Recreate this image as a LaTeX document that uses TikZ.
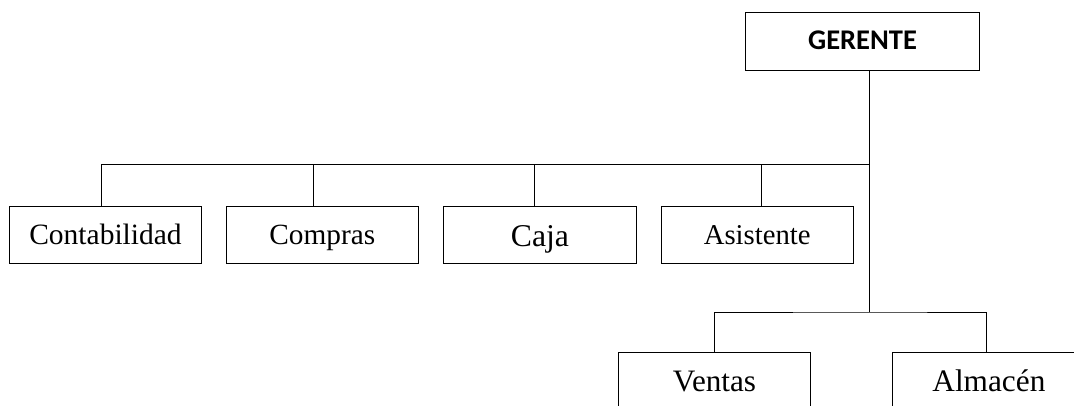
\documentclass[tikz,border=0pt]{standalone}
\usepackage{fontspec}
\setmainfont{Liberation Serif}
\newfontfamily\calfont{Carlito}
\begin{document}
\begin{tikzpicture}[x=1pt,y=-1pt,
  box/.style={draw,line width=0.9pt,inner sep=0pt,minimum height=56.6pt,minimum width=192.4pt,text depth=0pt},
  link/.style={line width=0.8pt}]
\useasboundingbox (0,0) rectangle (1074,405);
\clip (0,0) rectangle (1074,405);
\node[box,minimum width=233.6pt,minimum height=58pt,text height=17pt,font=\calfont\bfseries\fontsize{28.5}{32}\selectfont] (ger) at (862.5,41.3) {GERENTE};
\node[box,text height=18.6pt,font=\fontsize{29.5}{34}\selectfont] (cont) at (105.5,235) {Contabilidad};
\node[box,text height=18.6pt,font=\fontsize{29.3}{34}\selectfont] (comp) at (322.3,235) {Compras};
\node[box,text height=22pt,font=\fontsize{31.7}{36}\selectfont] (caja) at (540,235) {Caja};
\node[box,text height=18.6pt,font=\fontsize{28.7}{34}\selectfont] (asis) at (757.2,235) {Asistente};
\node[box,text height=20pt,font=\fontsize{31.2}{36}\selectfont] (vent) at (714.5,381) {Ventas};
\node[box,text height=20pt,font=\fontsize{31.3}{36}\selectfont] (alm) at (988.9,381) {Almacén};
\coordinate (b1) at (869.5,164.5);
\coordinate (b2) at (869.5,312);
\draw[link] (ger.south -| b1) -- (b2);
\draw[link] ([xshift=-4.2pt]cont.north) |- (b1);
\draw[link] ([xshift=-8.6pt]comp.north) -- ([xshift=-8.6pt]comp.north |- b1);
\draw[link] ([xshift=-6pt]caja.north) -- ([xshift=-6pt]caja.north |- b1);
\draw[link] ([xshift=3.8pt]asis.north) -- ([xshift=3.8pt]asis.north |- b1);
\draw[link] (vent.north) |- (b2) -| ([xshift=-2.6pt]alm.north);
\end{tikzpicture}
\end{document}
